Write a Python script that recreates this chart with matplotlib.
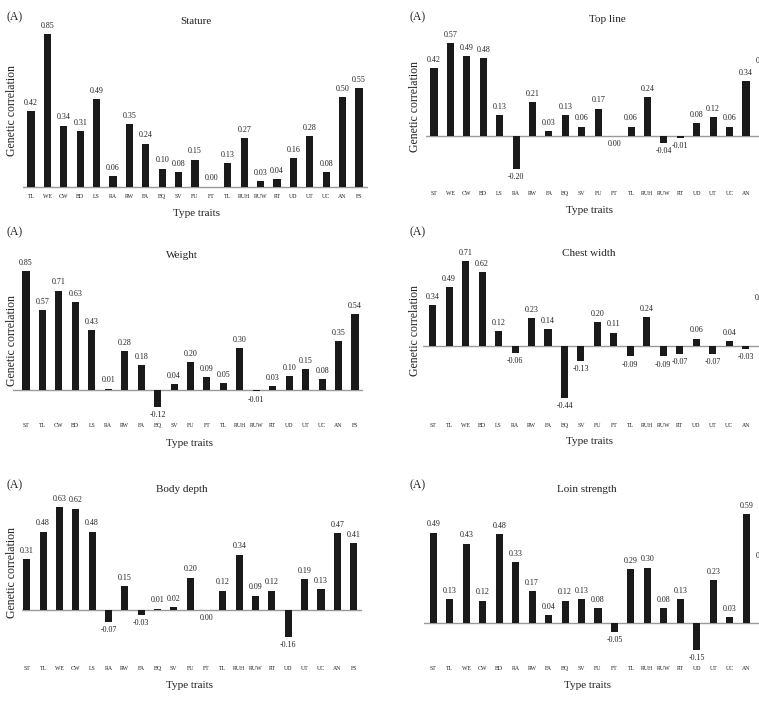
import matplotlib
matplotlib.use("Agg")
import matplotlib.pyplot as plt

plt.rcParams["font.family"] = ["Liberation Serif", "DejaVu Serif"]

# ---- data -------------------------------------------------------------
traits_stature = ["TL", "WE", "CW", "BD", "LS", "RA", "RW", "FA", "BQ", "SV", "FU",
                  "FT", "TL", "RUH", "RUW", "RT", "UD", "UT", "UC", "AN", "FS"]
vals_stature = [0.42, 0.85, 0.34, 0.31, 0.49, 0.06, 0.35, 0.24, 0.10, 0.08, 0.15,
                0.00, 0.13, 0.27, 0.03, 0.04, 0.16, 0.28, 0.08, 0.50, 0.55]

traits_topline = ["ST", "WE", "CW", "BD", "LS", "RA", "RW", "FA", "BQ", "SV", "FU",
                  "FT", "TL", "RUH", "RUW", "RT", "UD", "UT", "UC", "AN", "FS"]
vals_topline = [0.42, 0.57, 0.49, 0.48, 0.13, -0.20, 0.21, 0.03, 0.13, 0.06, 0.17,
                0.00, 0.06, 0.24, -0.04, -0.01, 0.08, 0.12, 0.06, 0.34, 0.41]

traits_weight = ["ST", "TL", "CW", "BD", "LS", "RA", "RW", "FA", "BQ", "SV", "FU",
                 "FT", "TL", "RUH", "RUW", "RT", "UD", "UT", "UC", "AN", "FS"]
vals_weight = [0.85, 0.57, 0.71, 0.63, 0.43, 0.01, 0.28, 0.18, -0.12, 0.04, 0.20,
               0.09, 0.05, 0.30, -0.01, 0.03, 0.10, 0.15, 0.08, 0.35, 0.54]

traits_chest = ["ST", "TL", "WE", "BD", "LS", "RA", "RW", "FA", "BQ", "SV", "FU",
                "FT", "TL", "RUH", "RUW", "RT", "UD", "UT", "UC", "AN", "FS"]
vals_chest = [0.34, 0.49, 0.71, 0.62, 0.12, -0.06, 0.23, 0.14, -0.44, -0.13, 0.20,
              0.11, -0.09, 0.24, -0.09, -0.07, 0.06, -0.07, 0.04, -0.03, 0.33]

traits_body = ["ST", "TL", "WE", "CW", "LS", "RA", "RW", "FA", "BQ", "SV", "FU",
               "FT", "TL", "RUH", "RUW", "RT", "UD", "UT", "UC", "AN", "FS"]
vals_body = [0.31, 0.48, 0.63, 0.62, 0.48, -0.07, 0.15, -0.03, 0.01, 0.02, 0.20,
             0.00, 0.12, 0.34, 0.09, 0.12, -0.16, 0.19, 0.13, 0.47, 0.41]

traits_loin = ["ST", "TL", "WE", "CW", "BD", "RA", "RW", "FA", "BQ", "SV", "FU",
               "FT", "TL", "RUH", "RUW", "RT", "UD", "UT", "UC", "AN", "FS"]
vals_loin = [0.49, 0.13, 0.43, 0.12, 0.48, 0.33, 0.17, 0.04, 0.12, 0.13, 0.08,
             -0.05, 0.29, 0.30, 0.08, 0.13, -0.15, 0.23, 0.03, 0.59, 0.32]

W, H = 759, 701
fig = plt.figure(figsize=(W / 100, H / 100), dpi=100)
TXT = "#222222"


def fx(x):
    return x / W


def fy(y):
    return 1 - y / H


def panel(title, traits, vals, x0, x1, first, step, base, scale, tick_y,
          title_xy, a_xy, type_xy, ylab_xy=None):
    bottom = tick_y - 3
    top = 12
    ax = fig.add_axes([fx(x0), fy(bottom), (x1 - x0) / W, (bottom - top) / H])
    ax.set_xlim(-(first - x0) / step, -(first - x0) / step + (x1 - x0) / step)
    ax.set_ylim(-(bottom - base) / scale, (base - top) / scale)
    ax.patch.set_alpha(0)
    for s in ax.spines.values():
        s.set_visible(False)
    ax.axhline(0, color="#9a9a9a", lw=1.0, zorder=1)
    xs = range(len(vals))
    ax.bar(xs, vals, width=0.43, color="#1a1a1a", zorder=2)
    has_neg = any(v < 0 for v in vals)
    for i, v in zip(xs, vals):
        below = v < 0 or (v == 0 and has_neg)
        ax.annotate(f"{v:.2f}", (i, v), xytext=(0, -3 if below else 3),
                    textcoords="offset points", ha="center",
                    va="top" if below else "bottom", fontsize=5.8, color=TXT,
                    annotation_clip=False)
    ax.set_xticks(list(xs))
    ax.set_xticklabels(traits, fontsize=4.2, color=TXT)
    ax.tick_params(axis="x", length=0, pad=0)
    ax.set_yticks([])
    fig.text(fx(title_xy[0]), fy(title_xy[1]), title, ha="center", va="center",
             fontsize=8, color=TXT)
    fig.text(fx(a_xy[0]), fy(a_xy[1]), "(A)", ha="center", va="center",
             fontsize=8.5, color=TXT)
    fig.text(fx(type_xy[0]), fy(type_xy[1]), "Type traits", ha="center",
             va="center", fontsize=8, color=TXT)
    if ylab_xy is not None:
        fig.text(fx(ylab_xy[0]), fy(ylab_xy[1]), "Genetic correlation",
                 ha="center", va="center", rotation=90, fontsize=8.5, color=TXT)
    return ax


panel("Stature", traits_stature, vals_stature, 23, 368, 31, 16.4, 186.5, 179, 197,
      (196, 22), (15, 17), (196, 213), (12, 110))
panel("Top line", traits_topline, vals_topline, 426, 830, 434, 16.42, 136.3, 163, 194,
      (607, 19), (418, 17), (589, 211), (415, 107))
panel("Weight", traits_weight, vals_weight, 13, 363, 26, 16.45, 390, 140, 426,
      (182, 256), (15, 232), (190, 443), (12, 340))
panel("Chest width", traits_chest, vals_chest, 423, 830, 432.7, 16.47, 345.7, 119, 425.7,
      (589, 254), (418, 232), (589, 442), (415, 330))
panel("Body depth", traits_body, vals_body, 21.7, 361.7, 26.7, 16.35, 610.3, 164, 669,
      (182, 490), (15, 485), (190, 686), (12, 572))
panel("Loin strength", traits_loin, vals_loin, 424, 830, 433.3, 16.47, 622.7, 184, 669,
      (587, 489), (418, 485), (588, 686))

fig.savefig("out.png", dpi=100, facecolor="white")
